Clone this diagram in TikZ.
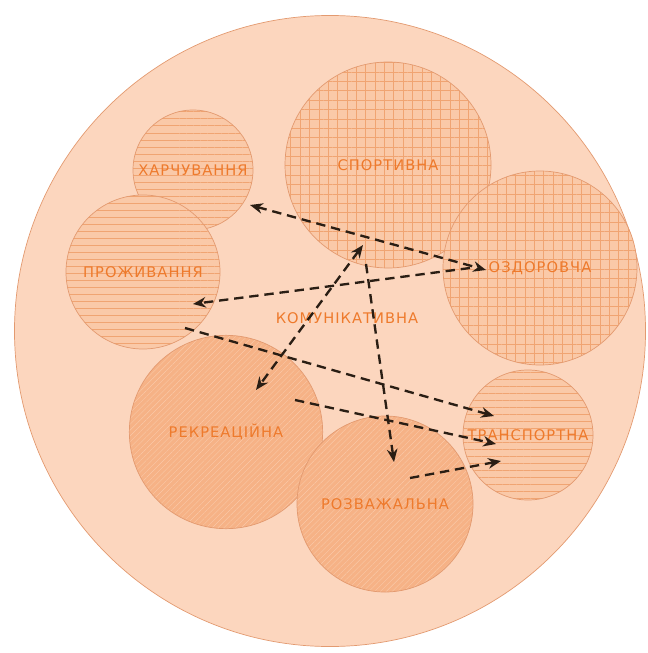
\documentclass[tikz,border=0pt]{standalone}
\usepackage{fontspec}
\setmainfont{DejaVu Sans}[LetterSpace=7]
\usetikzlibrary{arrows.meta,patterns.meta}

\definecolor{outerfill}{HTML}{FCD6BE}
\definecolor{outeredge}{HTML}{E39A70}
\definecolor{innerfill}{HTML}{FAC9A8}
\definecolor{darkfill}{HTML}{F6B286}
\definecolor{hatchcol}{HTML}{F0A472}
\definecolor{labelcol}{HTML}{EE7A2C}
\definecolor{arrowcol}{HTML}{2A1E14}

\begin{document}
\begin{tikzpicture}[x=0.03cm, y=-0.03cm,
  every node/.style={font=\fontsize{12.5}{14}\selectfont, text=labelcol},
  zone/.style={circle, draw=outeredge, line width=0.6pt, inner sep=0pt},
  linezone/.style={zone, preaction={fill=innerfill},
    pattern={Lines[angle=0,distance=6pt,line width=0.5pt]}, pattern color=hatchcol},
  gridzone/.style={zone, preaction={fill=innerfill},
    pattern={Hatch[angle=0,distance=8pt,line width=0.3pt]}, pattern color=hatchcol},
  slantzone/.style={zone, preaction={fill=darkfill},
    pattern={Lines[angle=45,distance=3.5pt,line width=0.35pt]}, pattern color=innerfill},
  link/.style={draw=arrowcol, line width=2pt, dash pattern=on 8pt off 5pt,
    -{Stealth[length=11pt,width=9pt]}},
  twoway/.style={link, {Stealth[length=11pt,width=9pt]}-{Stealth[length=11pt,width=9pt]}}]
\useasboundingbox (0,0) rectangle (647,653);

% whole area
\node[zone, fill=outerfill, minimum size=18.93cm] (komun) at (330,331) {};

% inner functions
\node[linezone, minimum size=3.6cm] (harch) at (193,170) {ХАРЧУВАННЯ};
\node[linezone, minimum size=4.62cm] (prozh) at (143,272) {ПРОЖИВАННЯ};
\node[gridzone, minimum size=6.18cm] (sport) at (388,165) {СПОРТИВНА};
\node[gridzone, minimum size=5.82cm] (ozdor) at (540,268) {ОЗДОРОВЧА};
\node[slantzone, minimum size=5.8cm] (rekr) at (226,432) {РЕКРЕАЦІЙНА};
\node[slantzone, minimum size=5.28cm] (rozv) at (385,504) {РОЗВАЖАЛЬНА};
\node[linezone, minimum size=3.9cm] (transp) at (528,435) {ТРАНСПОРТНА};

\node (komunlabel) at (347,318) {КОМУНІКАТИВНА};

% arrow ends
\coordinate (harchin) at (250,205);
\coordinate (ozdorin) at (486,270);
\coordinate (ozdorout) at (470,268);
\coordinate (prozhin) at (193,304);
\coordinate (prozhout) at (185,328);
\coordinate (hub) at (363,245);
\coordinate (hubdown) at (366,264);
\coordinate (rekrin) at (256,390);
\coordinate (rekrout) at (295,400);
\coordinate (rozvin) at (394,462);
\coordinate (rozvout) at (410,478);
\coordinate (transpa) at (494,416);
\coordinate (transpb) at (496,444);
\coordinate (transpc) at (501,461);

\draw[twoway] (harchin) -- (ozdorin);
\draw[link] (ozdorout) -- (prozhin);
\draw[twoway] (hub) -- (rekrin);
\draw[link] (hubdown) -- (rozvin);
\draw[link] (prozhout) -- (transpa);
\draw[link] (rekrout) -- (transpb);
\draw[link] (rozvout) -- (transpc);
\end{tikzpicture}
\end{document}
